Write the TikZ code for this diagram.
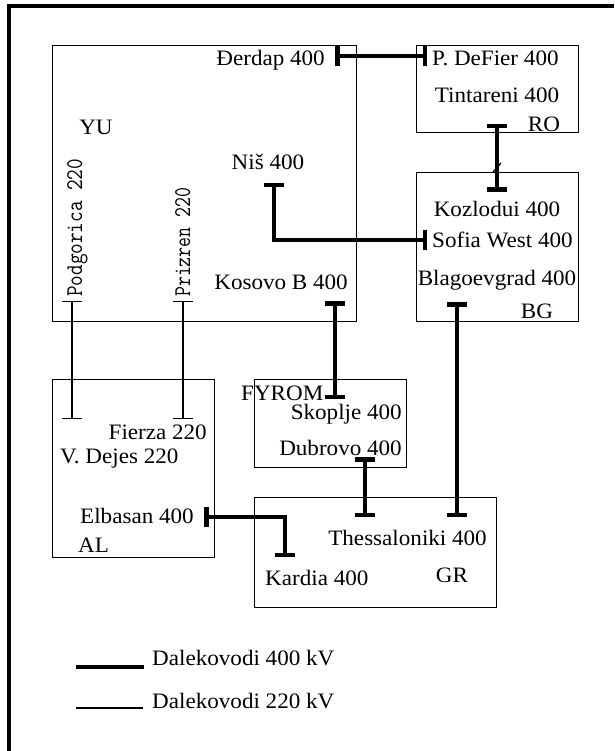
\documentclass[tikz,border=0pt]{standalone}
\usepackage{fontspec}
\usepackage{graphicx}
\setmainfont{Liberation Serif}[FakeStretch=1.05]
\usetikzlibrary{arrows.meta}
\begin{document}
\begin{tikzpicture}[x=1pt,y=-1pt,
  lbl/.style={inner sep=0pt, font=\fontsize{22}{25}\selectfont},
  rot/.style={inner sep=0pt, rotate=90, anchor=base west, font=\ttfamily\fontsize{24}{26}\selectfont},
  box/.style={draw, line width=1.4pt, inner sep=0pt, anchor=north west},
  hv/.style={line width=4.5pt, {Bar[width=20pt]}-{Bar[width=20pt]}},
  lv/.style={line width=1.3pt, {Bar[width=20pt]}-{Bar[width=20pt]}},
  frameline/.style={line width=3.2pt}]
\useasboundingbox (0,0) rectangle (614,751);
\fill[white] (0,0) rectangle (614,751);
% outer frame
\coordinate (fTR) at (614,6);
\coordinate (fTL) at (9,6);
\coordinate (fBL) at (9,751);
\draw[frameline] (fTR) -- (fTL) -- (fBL);
% country boxes
\node[box, minimum width=304pt, minimum height=276pt] (YUbox) at (52,45) {};
\node[box, minimum width=162pt, minimum height=87pt] (RObox) at (416,45) {};
\node[box, minimum width=162pt, minimum height=149pt] (BGbox) at (416,172) {};
\node[box, minimum width=162pt, minimum height=178pt] (ALbox) at (52,379) {};
\node[box, minimum width=152pt, minimum height=88pt] (FYbox) at (254,379) {};
\node[box, minimum width=242pt, minimum height=110pt] (GRbox) at (254,497) {};
% labels
\node[lbl, anchor=base east] (derdap) at (325,66) {Đerdap 400};
\node[lbl, anchor=base west] (defier) at (432,66) {P. DeFier 400};
\node[lbl, anchor=base] (tint) at (497,103) {Tintareni 400};
\node[lbl, anchor=base] (ro) at (544,132) {RO};
\node[lbl, anchor=base] (yu) at (96,135) {YU};
\node[lbl, anchor=base] (nis) at (268,170) {Niš 400};
\node[lbl, anchor=base] (koz) at (497,217) {Kozlodui 400};
\node[lbl, anchor=base west] (sofia) at (432,247) {Sofia West 400};
\node[lbl, anchor=base east] (kosovo) at (348,289) {Kosovo B 400};
\node[lbl, anchor=base] (blag) at (497,285) {Blagoevgrad 400};
\node[lbl, anchor=base] (bg) at (537,318) {BG};
\node[rot] (podg) at (82,297) {\resizebox{138pt}{\height}{Podgorica 220}};
\node[rot] (priz) at (190,297) {\resizebox{109pt}{\height}{Prizren 220}};
\node[lbl, anchor=base west] (fyrom) at (241,400) {FYROM};
\node[lbl, anchor=base east] (skop) at (402,419) {Skoplje 400};
\node[lbl, anchor=base east] (dub) at (402,455) {Dubrovo 400};
\node[lbl, anchor=base east] (fierza) at (207,439) {Fierza 220};
\node[lbl, anchor=base west] (dejes) at (60,463) {V. Dejes 220};
\node[lbl, anchor=base west] (elb) at (80,523) {Elbasan 400};
\node[lbl, anchor=base west] (al) at (78,552) {AL};
\node[lbl, anchor=base east] (thes) at (487,545) {Thessaloniki 400};
\node[lbl, anchor=base west] (kard) at (265,585) {Kardia 400};
\node[lbl, anchor=base] (gr) at (452,582) {GR};
\node[lbl, anchor=base west] (leg4) at (152,665) {Dalekovodi 400 kV};
\node[lbl, anchor=base west] (leg2) at (152,708) {Dalekovodi 220 kV};
% connector end points
\coordinate (dA) at (335,56);  \coordinate (dB) at (427,56);
\coordinate (rA) at (497,124); \coordinate (rB) at (497,192);
\coordinate (nA) at (274,183); \coordinate (nB) at (427,240);
\coordinate (kA) at (335,301); \coordinate (kB) at (335,399);
\coordinate (bA) at (457,302); \coordinate (bB) at (457,517);
\coordinate (uA) at (365,457); \coordinate (uB) at (365,517);
\coordinate (eA) at (204,517); \coordinate (eB) at (285,557);
\coordinate (pA) at (72,301);  \coordinate (pB) at (72,419);
\coordinate (zA) at (183,301); \coordinate (zB) at (183,419);
% 400 kV lines
\draw[hv] (dA) -- (dB);
\draw[hv] (rA) -- (rB);
\draw[hv] (nA) |- (nB);
\draw[hv] (kA) -- (kB);
\draw[hv] (bA) -- (bB);
\draw[hv] (uA) -- (uB);
\draw[hv] (eA) -| (eB);
% 220 kV lines
\draw[lv] (pA) -- (pB);
\draw[lv] (zA) -- (zB);
% small mark on RO-BG line
\draw[line width=1.3pt] (493,172) -- (501,163);
% legend
\coordinate (l4a) at (76,667); \coordinate (l4b) at (144,667);
\coordinate (l2a) at (76,708); \coordinate (l2b) at (143,708);
\draw[line width=4.5pt] (l4a) -- (l4b);
\draw[line width=1.3pt] (l2a) -- (l2b);
\end{tikzpicture}
\end{document}
